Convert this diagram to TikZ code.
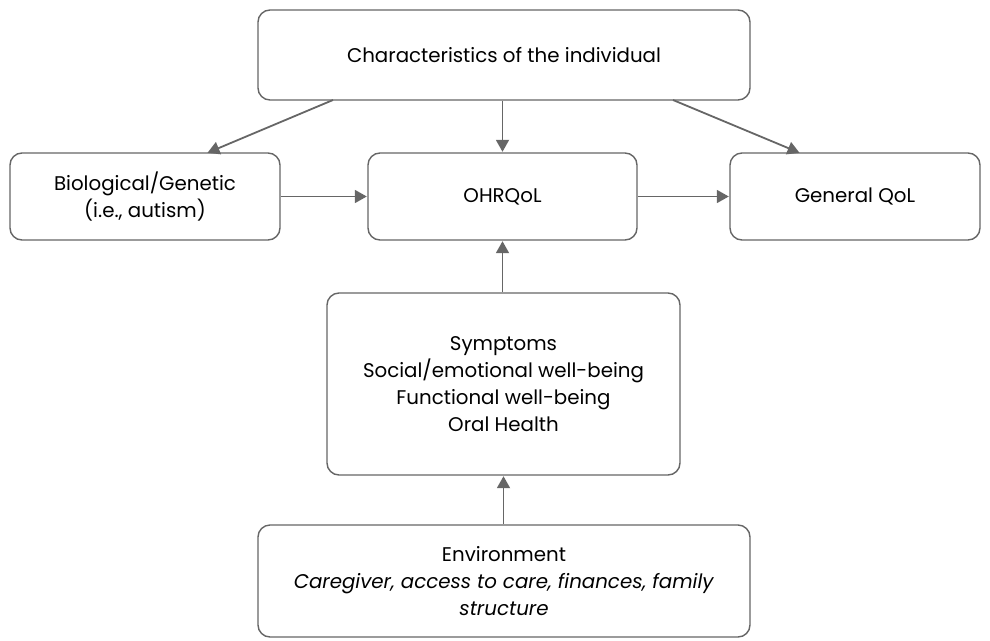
\documentclass[tikz,border=0pt]{standalone}
\usepackage{fontspec}
\setmainfont[Ligatures=NoCommon]{Poppins}
\usetikzlibrary{arrows.meta}
\begin{document}
\begin{tikzpicture}[x=1pt,y=-1pt,
  box/.style={draw=black!60, line width=1.4pt, rounded corners=12pt, fill=white, align=center, font=\fontsize{19.8}{27}\selectfont},
  conn/.style={draw=black!60, line width=1.8pt, -{Triangle[length=12pt,width=13pt]}, shorten >=0.5pt}]
\useasboundingbox (0,0) rectangle (990,640);
\node[box, minimum width=492pt, minimum height=90pt] (top) at (504,55) {Characteristics of the individual};
\node[box, minimum width=270pt, minimum height=87pt] (bio) at (145,196.5) {Biological/Genetic\\(i.e., autism)};
\node[box, minimum width=269pt, minimum height=87pt] (oh) at (502.5,196.5) {OHRQoL};
\node[box, minimum width=250pt, minimum height=87pt] (gq) at (855,196.5) {General QoL};
\node[box, minimum width=353pt, minimum height=182pt] (sym) at (503.5,384) {Symptoms\\Social/emotional well-being\\Functional well-being\\Oral Health};
\node[box, minimum width=492pt, minimum height=112pt] (env) at (504,581) {Environment\\\textit{Caregiver, access to care, finances, family}\\\textit{structure}};
\coordinate (t1) at (333,100);
\coordinate (t2) at (673,100);
\coordinate (b1) at (207,153);
\coordinate (g1) at (800,153);
\draw[conn] (t1) -- (b1);
\draw[conn] (top.south -| oh.north) -- (oh.north);
\draw[conn] (t2) -- (g1);
\draw[conn] (bio.east) -- (oh.west);
\draw[conn] (oh.east) -- (gq.west);
\draw[conn] (sym.north -| oh.south) -- (oh.south);
\draw[conn] (env.north -| sym.south) -- (sym.south);
\end{tikzpicture}
\end{document}
